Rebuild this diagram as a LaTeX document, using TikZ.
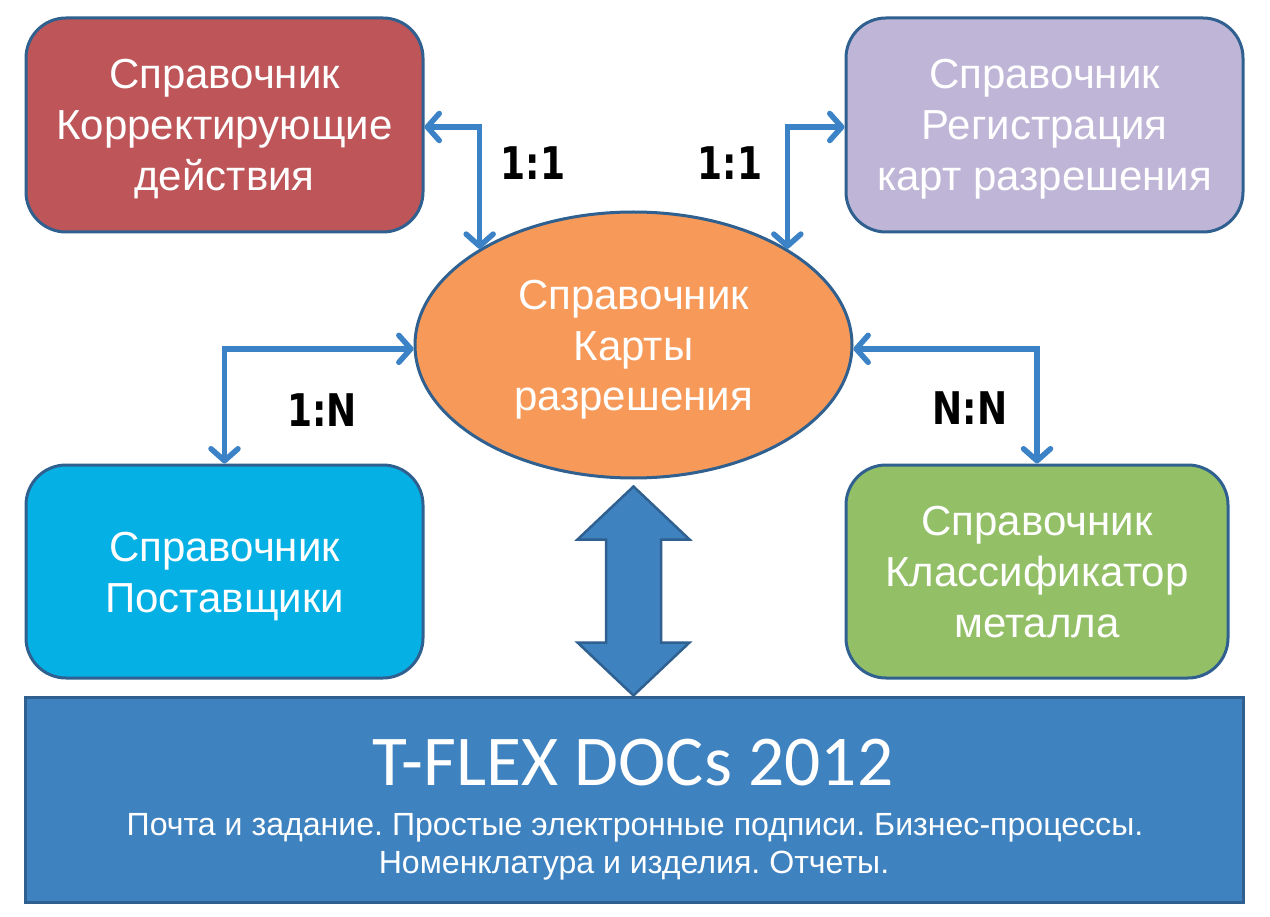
\documentclass[tikz,border=0pt]{standalone}
\usepackage{fontspec}
\setmainfont{Liberation Sans}
\newfontfamily\calib{Carlito}
\newfontfamily\lblfont[FakeStretch=0.8]{DejaVu Sans Bold}
\usetikzlibrary{shapes.geometric,arrows.meta,calc}
\definecolor{redbox}{HTML}{BE5558}
\definecolor{lavbox}{HTML}{BFB5D7}
\definecolor{orell}{HTML}{F79A59}
\definecolor{cyanbox}{HTML}{05B0E5}
\definecolor{grnbox}{HTML}{93BF67}
\definecolor{barblue}{HTML}{3E82C0}
\definecolor{edgeblue}{HTML}{2F6090}
\definecolor{connblue}{HTML}{3B82C6}
\newcommand\lnstrut{\rule[-10.5pt]{0pt}{51pt}}
\tikzset{
  box/.style={draw=edgeblue, line width=3pt, rounded corners=40pt,
    minimum width=397pt, minimum height=214pt, inner sep=0pt,
    text=white, align=center, font=\fontsize{42}{51}\selectfont},
  conn/.style={draw=connblue, line width=5.5pt,
    {Straight Barb[length=12pt,width=27pt,round]}-{Straight Barb[length=12pt,width=27pt,round]}},
  lbl/.style={font=\lblfont\fontsize{45}{52}\selectfont, text=black, inner sep=0pt},
  bigarr/.style={draw=edgeblue, line width=2.5pt, fill=barblue, line join=miter}
}
\begin{document}
\frenchspacing
\begin{tikzpicture}[x=1pt,y=-1pt]
\fill[white] (0,0) rectangle (1270,917);
\useasboundingbox (0,0) rectangle (1270,917);

\node[box, fill=redbox] (tl) at (224.5,125) {\lnstrut Справочник\\\lnstrut Корректирующие\\\lnstrut действия};
\node[box, fill=lavbox] (tr) at (1044.5,125) {\lnstrut Справочник\\\lnstrut Регистрация\\\lnstrut карт разрешения};
\node[box, fill=cyanbox, minimum height=213pt] (bl) at (224.5,571.5) {\lnstrut Справочник\\\lnstrut Поставщики};
\node[box, fill=grnbox, minimum width=382pt, minimum height=213pt] (br) at (1037,571.5) {\lnstrut Справочник\\\lnstrut Классификатор\\\lnstrut металла};

\node[ellipse, draw=edgeblue, line width=3pt, fill=orell, minimum width=437pt, minimum height=266pt,
  inner sep=0pt, text=white, align=center, font=\fontsize{42}{51}\selectfont] (ell) at (633.5,345)
  {\lnstrut Справочник\\\lnstrut Карты\\\lnstrut разрешения};

\node[draw=edgeblue, line width=3pt, fill=barblue, minimum width=1218pt, minimum height=205pt, inner sep=0pt] (bar) at (634,799.5) {};
\node[anchor=base, text=white, inner sep=0pt, font=\calib\fontsize{71.5}{84}\selectfont] (title) at (633,785) {T-FLEX DOCs 2012};
\node[anchor=base, text=white, inner sep=0pt, font=\fontsize{32.1}{38}\selectfont] (sub1) at (635,835) {Почта и задание. Простые электронные подписи. Бизнес-процессы.};
\node[anchor=base, text=white, inner sep=0pt, font=\fontsize{32.1}{38}\selectfont] (sub2) at (634,873) {Номенклатура и изделия. Отчеты.};

\draw[conn] ([yshift=-2pt]tl.east) -| (ell.148);
\draw[conn] ([yshift=-2pt]tr.west) -| (ell.32);
\draw[conn] (ell.181) -| (bl.north);
\draw[conn] (ell.359) -| (br.north);

\node[lbl] (l1) at (533,163) {1:1};
\node[lbl] (l2) at (730,163) {1:1};
\node[lbl] (l3) at (322,410) {1:N};
\node[lbl] (l4) at (970,408) {N:N};

\coordinate (dt) at ([yshift=-7pt]ell.south);
\coordinate (db) at (dt |- bar.north);
\draw[bigarr] (dt) -- ($(dt)+(56,53)$) -- ($(dt)+(27.5,53)$) -- ($(db)+(27.5,-53)$) -- ($(db)+(56,-53)$)
  -- (db) -- ($(db)+(-56,-53)$) -- ($(db)+(-27.5,-53)$) -- ($(dt)+(-27.5,53)$) -- ($(dt)+(-56,53)$) -- cycle;
\end{tikzpicture}
\end{document}
